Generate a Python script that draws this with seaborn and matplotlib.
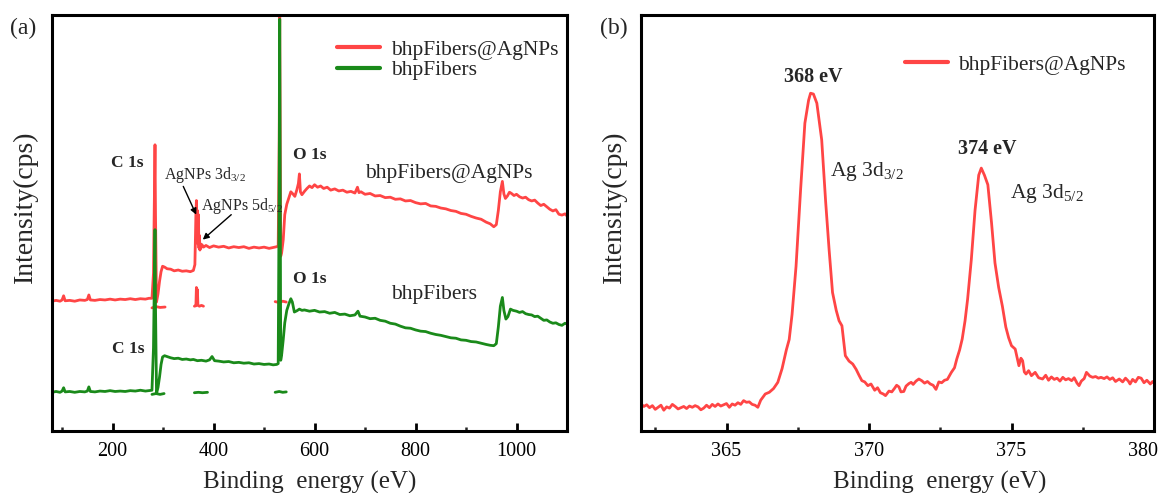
import numpy as np
import pandas as pd
import matplotlib
matplotlib.use("Agg")
import matplotlib.pyplot as plt
from matplotlib.transforms import ScaledTranslation
from matplotlib.lines import Line2D
import seaborn as sns

# ---------------- data: panel (a) survey spectra ----------------
red_energy = [
    80, 88, 96, 100, 103, 106, 115, 125, 135, 145,
    150, 153, 156, 165, 175, 185, 195, 205, 215, 225,
    235, 245, 255, 265, 272, 278, 281, 283, 284, 285,
    287, 290, 293, 296, 299, 303, 308, 315, 322, 330,
    338, 346, 354, 360, 363, 365, 366, 367, 368, 369,
    370, 371, 372, 373, 374, 375, 377, 380, 385, 392,
    400, 410, 420, 430, 440, 450, 460, 470, 480, 490,
    500, 510, 518, 525, 528, 530, 531, 532, 533, 535,
    538, 541, 545, 549, 553, 557, 561, 565, 568, 570,
    572, 575, 580, 585, 590, 595, 600, 606, 612, 618,
    625, 632, 640, 648, 656, 664, 672, 680, 685, 688,
    692, 700, 710, 720, 730, 740, 750, 760, 770, 780,
    790, 800, 810, 820, 830, 840, 850, 860, 870, 880,
    890, 900, 910, 920, 930, 940, 948, 955, 960, 964,
    968, 972, 975, 978, 982, 986, 990, 995, 1000, 1006,
    1012, 1018, 1024, 1030, 1036, 1042, 1048, 1054, 1060, 1066,
    1072, 1078, 1084, 1090, 1096, 1100]
red_counts = [
    31.2, 31.4, 31.2, 31.5, 32.5, 31.3, 31.4, 31.2, 31.5, 31.4,
    31.6, 32.7, 31.5, 31.4, 31.6, 31.5, 31.7, 31.5, 31.7, 31.6,
    31.8, 31.6, 31.8, 31.7, 31.9, 31.9, 38.0, 60.0, 68.8, 52.0,
    31.0, 33.0, 36.0, 38.3, 39.6, 39.4, 39.0, 38.9, 38.5, 38.7,
    38.4, 38.5, 38.3, 38.6, 40.0, 52.0, 55.4, 48.0, 53.0, 45.0,
    52.0, 44.0, 47.0, 43.5, 45.0, 44.0, 44.8, 44.2, 44.6, 44.1,
    44.5, 44.2, 44.4, 44.0, 44.3, 44.1, 44.3, 43.9, 44.2, 44.0,
    44.2, 43.9, 44.1, 44.3, 44.5, 70.0, 101.0, 70.0, 42.0, 43.0,
    46.0, 52.0, 54.5, 56.0, 57.5, 57.0, 56.4, 58.0, 59.5, 61.8,
    57.5, 56.8, 57.6, 58.3, 58.9, 58.5, 59.2, 58.6, 58.9, 58.3,
    58.6, 57.9, 58.2, 57.7, 57.9, 57.4, 57.6, 57.2, 58.6, 57.3,
    57.5, 56.9, 57.1, 56.5, 56.6, 56.1, 56.2, 55.7, 55.8, 55.3,
    55.4, 54.9, 54.6, 54.7, 54.1, 54.0, 53.6, 53.4, 53.0, 52.8,
    52.3, 52.1, 51.6, 51.2, 50.9, 50.2, 49.8, 49.1, 49.6, 53.0,
    57.5, 60.0, 57.0, 55.9, 56.5, 57.4, 57.1, 56.6, 56.9, 56.3,
    56.0, 56.2, 55.6, 55.3, 55.5, 54.8, 54.2, 54.5, 53.9, 53.3,
    52.9, 53.2, 52.1, 51.9, 52.2, 51.7]

green_energy = [
    80, 88, 96, 100, 103, 106, 115, 125, 135, 145,
    150, 153, 156, 165, 175, 185, 195, 205, 215, 225,
    235, 245, 255, 265, 272, 278, 281, 283, 284, 285,
    287, 290, 293, 296, 299, 303, 308, 315, 322, 330,
    338, 346, 354, 360, 368, 376, 385, 392, 397, 402,
    410, 420, 430, 440, 450, 460, 470, 480, 490, 500,
    510, 518, 525, 528, 530, 531, 532, 533, 535, 538,
    541, 545, 549, 553, 556, 560, 565, 570, 575, 580,
    590, 600, 610, 620, 630, 640, 650, 660, 670, 680,
    686, 690, 700, 710, 720, 730, 740, 750, 760, 770,
    780, 790, 800, 810, 820, 830, 840, 850, 860, 870,
    880, 890, 900, 910, 920, 930, 940, 948, 955, 960,
    964, 968, 972, 975, 979, 983, 988, 993, 1000, 1006,
    1012, 1018, 1024, 1030, 1036, 1042, 1048, 1054, 1060, 1066,
    1072, 1078, 1084, 1090, 1096, 1100]
green_counts = [
    9.3, 9.5, 9.3, 9.6, 10.4, 9.4, 9.5, 9.3, 9.5, 9.4,
    9.6, 10.6, 9.5, 9.4, 9.6, 9.5, 9.7, 9.5, 9.6, 9.5,
    9.7, 9.6, 9.8, 9.6, 9.7, 9.8, 20.0, 40.0, 48.4, 30.0,
    9.0, 10.5, 13.0, 16.0, 17.8, 18.1, 17.9, 17.6, 17.4, 17.5,
    17.2, 17.3, 17.1, 17.2, 16.9, 17.0, 16.8, 17.1, 17.9, 16.9,
    16.8, 16.6, 16.7, 16.4, 16.5, 16.3, 16.4, 16.1, 16.2, 16.0,
    16.1, 15.9, 16.0, 16.2, 60.0, 99.0, 60.0, 17.0, 18.5, 22.0,
    26.0, 29.0, 30.5, 31.8, 31.0, 28.6, 28.9, 29.3, 29.0, 29.1,
    28.8, 29.0, 28.6, 28.7, 28.3, 28.5, 28.0, 28.1, 27.7, 27.9,
    28.8, 27.6, 27.4, 27.0, 27.1, 26.6, 26.4, 25.9, 25.7, 25.2,
    24.8, 24.7, 24.3, 24.0, 23.9, 23.5, 23.2, 23.0, 22.7, 22.4,
    22.3, 21.9, 21.8, 21.5, 21.4, 21.1, 20.8, 20.6, 20.5, 21.0,
    25.0, 30.0, 32.1, 29.0, 26.9, 27.5, 29.3, 29.0, 28.8, 28.5,
    28.7, 28.2, 28.0, 27.9, 27.5, 27.6, 27.1, 26.6, 26.7, 26.2,
    25.9, 26.0, 25.6, 25.4, 25.9, 25.7]

# short detached trace pieces seen under the main curves
red_c1s_piece_e = [278, 286, 294, 304]
red_c1s_piece_c = [29.6, 29.9, 29.7, 29.8]
red_ag_piece_e = [362, 365, 366, 367, 368, 369, 372, 376, 380]
red_ag_piece_c = [30.0, 30.1, 34.5, 31.0, 34.0, 30.2, 30.0, 30.2, 30.0]
red_o1s_piece_e = [522, 530, 537, 544]
red_o1s_piece_c = [31.1, 30.9, 31.2, 31.0]
green_c1s_piece_e = [278, 286, 294, 302]
green_c1s_piece_c = [8.8, 9.0, 8.8, 9.0]
green_ag_piece_e = [362, 370, 378, 388]
green_ag_piece_c = [9.2, 9.3, 9.2, 9.3]
green_o1s_piece_e = [522, 530, 537, 544]
green_o1s_piece_c = [9.3, 9.5, 9.3, 9.4]

# ---------------- data: panel (b) Ag 3d high resolution ----------------
ag_energy = [
    362.0, 362.1, 362.2, 362.3, 362.4, 362.5, 362.6, 362.7, 362.8, 362.9,
    363.0, 363.1, 363.2, 363.3, 363.4, 363.5, 363.6, 363.7, 363.8, 363.9,
    364.0, 364.1, 364.2, 364.3, 364.4, 364.5, 364.6, 364.7, 364.8, 364.9,
    365.0, 365.1, 365.2, 365.3, 365.4, 365.5, 365.6, 365.7, 365.8, 365.9,
    366.0, 366.1, 366.2, 366.36, 366.5, 366.65, 366.8, 366.95, 367.1, 367.2,
    367.3, 367.44, 367.6, 367.75, 367.88, 367.95, 368.05, 368.17, 368.34, 368.48,
    368.6, 368.72, 368.85, 368.95, 369.05, 369.17, 369.3, 369.43, 369.55, 369.65,
    369.75, 369.85, 369.96, 370.07, 370.2, 370.3, 370.4, 370.5, 370.58, 370.7,
    370.8, 370.9, 370.97, 371.05, 371.12, 371.22, 371.3, 371.4, 371.48, 371.55,
    371.65, 371.75, 371.85, 371.95, 372.05, 372.15, 372.25, 372.35, 372.45, 372.55,
    372.65, 372.75, 372.89, 373.0, 373.08, 373.18, 373.27, 373.37, 373.46, 373.59,
    373.72, 373.85, 373.94, 374.05, 374.17, 374.3, 374.42, 374.55, 374.68, 374.8,
    374.9, 375.0, 375.13, 375.2, 375.26, 375.33, 375.39, 375.45, 375.51, 375.6,
    375.7, 375.83, 375.95, 376.09, 376.2, 376.3, 376.4, 376.5, 376.6, 376.7,
    376.8, 376.9, 377.0, 377.11, 377.2, 377.3, 377.37, 377.45, 377.55, 377.63,
    377.75, 377.85, 377.95, 378.05, 378.14, 378.25, 378.35, 378.45, 378.55, 378.65,
    378.78, 378.9, 379.0, 379.1, 379.16, 379.25, 379.35, 379.45, 379.55, 379.65,
    379.75, 379.87, 379.95, 380.0]
ag_counts = [
    6.5, 5.9, 6.3, 5.6, 6.1, 5.2, 5.7, 6.2, 5.0, 5.8,
    5.5, 6.4, 5.9, 5.3, 5.6, 5.9, 5.4, 6.0, 5.7, 6.1,
    5.8, 5.1, 5.5, 6.2, 5.6, 6.4, 5.9, 6.5, 6.0, 6.3,
    6.6, 5.7, 6.5, 6.2, 6.8, 6.4, 7.3, 6.9, 7.0, 6.4,
    6.2, 5.7, 7.4, 8.9, 9.3, 10.2, 11.7, 15.0, 19.5, 22.0,
    28.0, 39.6, 58.0, 74.0, 79.5, 81.2, 81.0, 78.8, 70.0, 55.0,
    43.6, 33.3, 29.0, 26.5, 25.3, 18.1, 16.8, 16.1, 14.8, 13.4,
    12.1, 11.8, 10.9, 11.3, 9.8, 10.4, 9.2, 8.9, 8.5, 9.6,
    9.4, 10.3, 11.0, 10.6, 9.4, 9.5, 10.8, 11.4, 11.7, 11.2,
    12.0, 12.5, 12.1, 11.5, 11.9, 11.3, 11.0, 10.0, 11.8, 11.6,
    12.2, 12.4, 14.1, 15.2, 17.3, 19.5, 22.1, 26.5, 31.7, 41.2,
    53.0, 61.5, 63.2, 61.5, 59.2, 50.0, 40.4, 34.5, 30.0, 25.0,
    22.4, 20.5, 19.7, 17.5, 15.7, 17.5, 16.9, 14.2, 13.7, 14.5,
    13.3, 14.1, 12.8, 12.5, 13.4, 12.2, 13.0, 12.4, 12.7, 12.0,
    12.9, 12.3, 12.6, 12.1, 12.8, 11.5, 10.9, 12.0, 12.6, 14.1,
    13.2, 12.9, 13.1, 12.7, 12.9, 12.6, 13.0, 12.4, 12.8, 11.9,
    12.5, 11.8, 12.7, 12.0, 11.3, 12.4, 11.8, 12.9, 12.7, 11.6,
    12.2, 11.3, 11.9, 11.6]

series_names = ["bhpFibers@AgNPs", "bhpFibers"]
tick_a = [200, 400, 600, 800, 1000]
tick_b = [365, 370, 375, 380]

RED = "#FF4545"
GREEN = "#1A8A1A"

# ---------------- style ----------------
sns.set_style("white")
plt.rcParams["font.family"] = ["Liberation Serif", "DejaVu Serif"]
plt.rcParams["mathtext.fontset"] = "custom"
plt.rcParams["mathtext.rm"] = "Liberation Serif"
plt.rcParams["mathtext.it"] = "Liberation Serif:italic"
plt.rcParams["mathtext.bf"] = "Liberation Serif:bold"


def segments(pieces):
    rows = []
    for i, (e, c) in enumerate(pieces):
        for xe, yc in zip(e, c):
            rows.append({"energy": xe, "counts": yc, "seg": i})
    return pd.DataFrame(rows)


fig = plt.figure(figsize=(11.63, 4.93), dpi=100)
W, H = 1163, 493
ax_a = fig.add_axes([52 / W, 1 - 431 / H, (567 - 52) / W, (431 - 15) / H])
ax_b = fig.add_axes([641 / W, 1 - 431 / H, (1154 - 641) / W, (431 - 15) / H])

lw = 2.0
red_df = segments([(red_energy, red_counts), (red_c1s_piece_e, red_c1s_piece_c),
                   (red_ag_piece_e, red_ag_piece_c), (red_o1s_piece_e, red_o1s_piece_c)])
green_df = segments([(green_energy, green_counts), (green_c1s_piece_e, green_c1s_piece_c),
                     (green_ag_piece_e, green_ag_piece_c), (green_o1s_piece_e, green_o1s_piece_c)])
sns.lineplot(data=red_df, x="energy", y="counts", units="seg", estimator=None,
             sort=False, color=RED, lw=lw, ax=ax_a, legend=False)
sns.lineplot(data=green_df, x="energy", y="counts", units="seg", estimator=None,
             sort=False, color=GREEN, lw=lw, ax=ax_a, legend=False)

ag_df = pd.DataFrame({"energy": ag_energy, "counts": ag_counts})
sns.lineplot(data=ag_df, x="energy", y="counts", estimator=None, sort=False,
             color=RED, lw=lw, ax=ax_b, legend=False)

for ax in (ax_a, ax_b):
    ax.set_ylim(0, 100)
    ax.set_yticks([])
    for s in ax.spines.values():
        s.set_linewidth(2.2)
        s.set_color("black")
    ax.tick_params(axis="x", which="major", direction="in", length=5.5, width=2.0,
                   labelsize=14.5, pad=8, colors="black", bottom=True, top=False)
    ax.tick_params(axis="x", which="minor", direction="in", length=3, width=1.8,
                   bottom=True, top=False)
    ax.set_ylabel("Intensity(cps)", fontsize=20)
    ax.set_xlabel("Binding  energy (eV)", fontsize=18)

ax_a.set_xlim(80, 1100)
ax_a.set_xticks(tick_a)
ax_a.set_xticks([100, 300, 500, 700, 900], minor=True)
ax_b.set_xlim(362, 380)
ax_b.set_xticks(tick_b)
ax_b.set_xticks([362.5, 367.5, 372.5, 377.5], minor=True)

ax_a.yaxis.set_label_coords(-0.028, 0.54)
ax_b.yaxis.set_label_coords(-0.028, 0.54)
ax_a.xaxis.set_label_coords(0.5, -0.095)
ax_b.xaxis.set_label_coords(0.582, -0.095)

# last tick label of panel (b) sits left of its tick, inside the picture
last = ax_b.get_xticklabels()[-1]
last.set_transform(last.get_transform() + ScaledTranslation(-0.11, 0, fig.dpi_scale_trans))

# legends
h_red = Line2D([], [], color=RED, lw=3)
h_green = Line2D([], [], color=GREEN, lw=3)
ax_a.legend([h_red, h_green], series_names, loc="upper left",
            bbox_to_anchor=(0.553, 0.94), frameon=False, fontsize=15.5,
            handlelength=2.0, handletextpad=0.5, labelspacing=0.0,
            borderpad=0, borderaxespad=0)
ax_b.legend([h_red], series_names[:1], loc="upper left",
            bbox_to_anchor=(0.514, 0.905), frameon=False, fontsize=15.5,
            handlelength=2.0, handletextpad=0.5, borderpad=0, borderaxespad=0)

# annotations, panel (a)
ax_a.text(197, 64.4, "C 1s", fontsize=12.5, fontweight="bold", va="center")
ax_a.text(199, 19.7, "C 1s", fontsize=12.5, fontweight="bold", va="center")
ax_a.text(557, 66.4, "O 1s", fontsize=12.5, fontweight="bold", va="center")
ax_a.text(557, 36.5, "O 1s", fontsize=12.5, fontweight="bold", va="center")
ax_a.text(700, 62.0, "bhpFibers@AgNPs", fontsize=15.5, va="center")
ax_a.text(751, 32.9, "bhpFibers", fontsize=15.5, va="center")
ax_a.text(302, 61.6, r"AgNPs 3d$_{3/2}$", fontsize=11.5, va="center")
ax_a.text(375, 54.0, r"AgNPs 5d$_{5/2}$", fontsize=11.5, va="center")
arrow = dict(arrowstyle="-|>", color="black", lw=1.0, mutation_scale=9,
             shrinkA=0, shrinkB=0)
ax_a.annotate("", xy=(365.7, 52.0), xytext=(340, 58.8), arrowprops=arrow)
ax_a.annotate("", xy=(378.6, 46.0), xytext=(435, 52.0), arrowprops=arrow)

# annotations, panel (b)
ax_b.text(368.03, 85.0, "368 eV", fontsize=14.5, fontweight="bold", ha="center", va="center")
ax_b.text(374.16, 67.8, "374 eV", fontsize=14.5, fontweight="bold", ha="center", va="center")
ax_b.text(368.62, 62.4, r"Ag 3d$_{3/2}$", fontsize=15.5, va="center")
ax_b.text(374.95, 57.2, r"Ag 3d$_{5/2}$", fontsize=15.5, va="center")

fig.text(10 / W, 1 - 28 / H, "(a)", fontsize=17, va="center")
fig.text(600 / W, 1 - 28 / H, "(b)", fontsize=17, va="center")

fig.savefig("out.png", dpi=100)
